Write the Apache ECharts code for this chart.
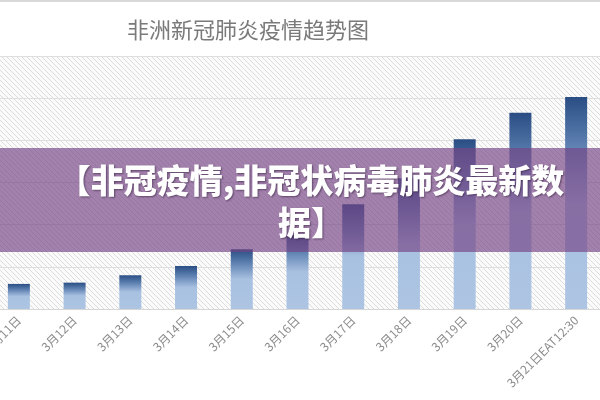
<!DOCTYPE html>
<html>
<head>
    <meta charset="utf-8">
    <title>非洲新冠肺炎疫情趋势图</title>
    <script type="text/javascript" src="https://cdn.jsdelivr.net/npm/echarts@6/dist/echarts.min.js"></script>
    <style type="text/css">
        html, body { margin: 0; padding: 0; background: #fff; }
        #main { width: 600px; height: 400px; }
    </style>
</head>
<body>
    <div id="main"></div>
    <script type="text/javascript">
        // 数据
        var days = ['3月11日', '3月12日', '3月13日', '3月14日', '3月15日', '3月16日',
                    '3月17日', '3月18日', '3月19日', '3月20日', '3月21日EAT12:30'];
        var cases = [119, 125, 160, 204, 283, 351, 497, 620, 805, 931, 1005];
        var yMax = 1200;
        var yStep = 200;

        // 斜线底纹
        var hatch = document.createElement('canvas');
        hatch.width = 5;
        hatch.height = 5;
        var ctx = hatch.getContext('2d');
        ctx.fillStyle = '#fbfbfb';
        ctx.fillRect(0, 0, 5, 5);
        ctx.strokeStyle = '#dcdcdc';
        ctx.lineWidth = 1;
        ctx.beginPath();
        ctx.moveTo(-1, -1); ctx.lineTo(6, 6);
        ctx.moveTo(-1, 4); ctx.lineTo(1, 6);
        ctx.moveTo(4, -1); ctx.lineTo(6, 1);
        ctx.stroke();

        var myChart = echarts.init(document.getElementById('main'));

        var option = {
            backgroundColor: '#fff',
            animation: false,
            title: {
                text: '非洲新冠肺炎疫情趋势图',
                left: 122,
                top: 14,
                textStyle: {
                    color: '#7a7a7a',
                    fontSize: 22,
                    fontWeight: 'normal',
                    fontFamily: 'Noto Sans CJK SC'
                }
            },
            grid: {
                show: true,
                left: -9,
                right: -4,
                top: 56,
                bottom: 91,
                outerBoundsMode: 'none',
                containLabel: false,
                borderWidth: 0,
                backgroundColor: { image: hatch, repeat: 'repeat' }
            },
            xAxis: {
                type: 'category',
                data: days,
                axisTick: { show: false },
                axisLine: { lineStyle: { color: '#d6d6d6', width: 1 } },
                axisLabel: {
                    rotate: 45,
                    margin: 9,
                    fontSize: 12,
                    color: '#8c8c8c',
                    fontFamily: 'Noto Sans CJK SC'
                }
            },
            yAxis: {
                type: 'value',
                min: 0,
                max: yMax,
                interval: yStep,
                axisLabel: { show: false },
                axisLine: { show: false },
                axisTick: { show: false },
                splitLine: { lineStyle: { color: '#dedede', width: 1 } }
            },
            series: [{
                name: '确诊病例',
                type: 'bar',
                data: cases,
                barWidth: 22,
                itemStyle: {
                    color: new echarts.graphic.LinearGradient(0, 0, 0, 1, [
                        { offset: 0, color: '#2a4d84' },
                        { offset: 0.22, color: '#5c7fb0' },
                        { offset: 0.5, color: '#a9c1e1' },
                        { offset: 1, color: '#adc5e3' }
                    ])
                }
            }],
            graphic: [
                {
                    type: 'line',
                    z: 100,
                    shape: { x1: 0, y1: 1, x2: 600, y2: 1 },
                    style: { stroke: '#d9d9d9', lineWidth: 2 }
                },
                {
                    type: 'rect',
                    z: 100,
                    shape: { x: 0, y: 148, width: 600, height: 104 },
                    style: { fill: 'rgba(118,69,133,0.67)' }
                },
                {
                    type: 'text',
                    z: 101,
                    x: 311,
                    y: 201,
                    style: {
                        text: '【非冠疫情,非冠状病毒肺炎最新数\n据】',
                        fill: '#ffffff',
                        fontSize: 33,
                        fontWeight: 900,
                        fontFamily: 'Noto Sans CJK SC',
                        lineHeight: 42,
                        align: 'center',
                        verticalAlign: 'middle',
                        textAlign: 'center',
                        textVerticalAlign: 'middle',
                        textShadowColor: 'rgba(40,20,50,0.55)',
                        textShadowBlur: 2,
                        textShadowOffsetX: 1,
                        textShadowOffsetY: 1
                    }
                }
            ]
        };

        myChart.setOption(option);
    </script>
</body>
</html>
